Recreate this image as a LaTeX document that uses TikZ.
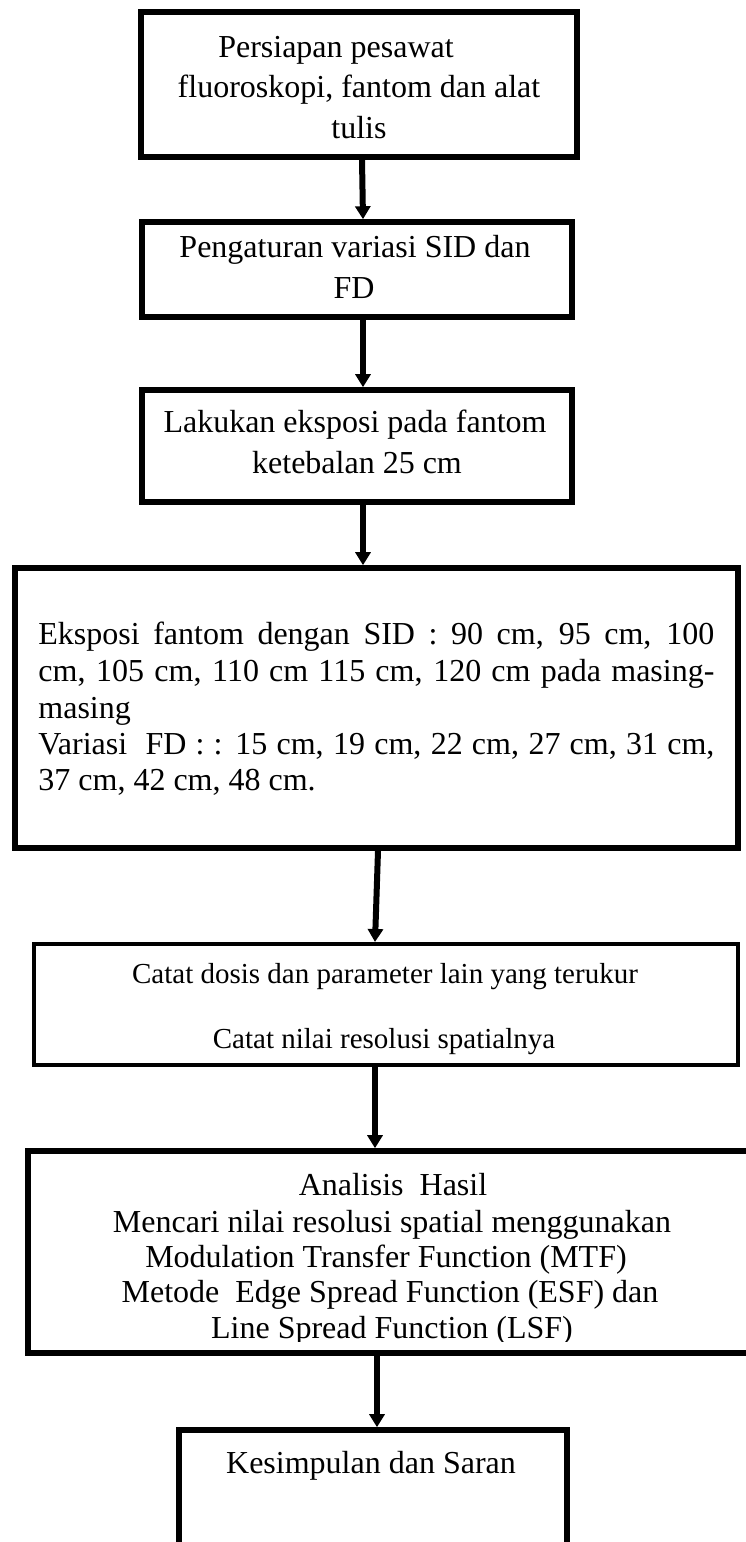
\documentclass[tikz,border=0pt]{standalone}
\usepackage{fontspec}
\setmainfont{Liberation Serif}
\usetikzlibrary{arrows.meta}
\begin{document}
\begin{tikzpicture}[x=0.5pt,y=-0.5pt,
  box/.style={draw,line width=2.8pt,inner sep=0pt,fill=none},
  thinbox/.style={draw,line width=2pt,inner sep=0pt},
  arr/.style={line width=3pt,-{Triangle[width=7.5pt,length=6.5pt]}},
  txt/.style={anchor=base,inner sep=0pt,font=\fontsize{16}{19}\selectfont},
  smalltxt/.style={anchor=base,inner sep=0pt,font=\fontsize{14.5}{17}\selectfont}]
\useasboundingbox (0,0) rectangle (745,1542);
\fill[white] (0,0) rectangle (745,1542);
% boxes
\node[box,minimum width=218pt,minimum height=72.5pt] (b1) at (359,84.5) {};
\node[box,minimum width=215pt,minimum height=47.5pt] (b2) at (357,269.5) {};
\node[box,minimum width=215pt,minimum height=56pt] (b3) at (357,446) {};
\node[box,minimum width=361.5pt,minimum height=140pt] (b4) at (376.5,708) {};
\node[thinbox,minimum width=352pt,minimum height=60.5pt] (b5) at (386,1004.5) {};
\node[box,minimum width=362pt,minimum height=101pt] (b6) at (390,1252) {};
\node[box,minimum width=194pt,minimum height=65pt] (b7) at (373,1495) {};
% texts
\node[txt] (t1a) at (336,57) {Persiapan pesawat};
\node[txt] (t1b) at (359,97) {fluoroskopi, fantom dan alat};
\node[txt] (t1c) at (359,138) {tulis};
\node[txt] (t2a) at (355,257) {Pengaturan variasi SID dan};
\node[txt] (t2b) at (354,298) {FD};
\node[txt] (t3a) at (355,432) {Lakukan eksposi pada fantom};
\node[txt] (t3b) at (357,473) {ketebalan 25 cm};
\node[txt,anchor=base west] (t4a) at (38,644) {\makebox[338pt][s]{Eksposi fantom dengan SID : 90 cm, 95 cm, 100}};
\node[txt,anchor=base west] (t4b) at (38,681) {\makebox[338pt][s]{cm, 105 cm, 110 cm 115 cm, 120 cm pada masing-}};
\node[txt,anchor=base west] (t4c) at (38,718) {masing};
\node[txt,anchor=base west] (t4d) at (38,754) {\makebox[338pt][s]{Variasi\ \ FD : : 15 cm, 19 cm, 22 cm, 27 cm, 31 cm,}};
\node[txt,anchor=base west] (t4e) at (38,790) {37 cm, 42 cm, 48 cm.};
\node[smalltxt] (t5a) at (385,983) {Catat dosis dan parameter lain yang terukur};
\node[smalltxt] (t5b) at (384,1048) {Catat nilai resolusi spatialnya};
\node[txt] (t6a) at (393,1195) {Analisis\ \ Hasil};
\node[txt] (t6b) at (392,1232) {Mencari nilai resolusi spatial menggunakan};
\node[txt] (t6c) at (386,1267) {Modulation Transfer Function (MTF)};
\node[txt] (t6d) at (390,1302) {Metode\ \ Edge Spread Function (ESF) dan};
\begin{scope}
\clip (0,1150) rectangle (745,1341);
\node[txt] (t6e) at (392,1338) {Line Spread Function (LSF)};
\end{scope}
\node[txt] (t7a) at (371,1473) {Kesimpulan dan Saran};
% connectors
\draw[arr] ([xshift=1.5pt]b1.south) -- ([xshift=3pt]b2.north);
\draw[arr] ([xshift=3pt]b2.south) -- ([xshift=3pt]b3.north);
\draw[arr] ([xshift=3pt]b3.south) -- ([xshift=-6.75pt]b4.north);
\draw[arr] ([xshift=0.75pt]b4.south) -- ([xshift=-5.5pt]b5.north);
\draw[arr] ([xshift=-5.5pt]b5.south) -- ([xshift=-7.5pt]b6.north);
\draw[arr] ([xshift=-6.5pt]b6.south) -- ([xshift=2pt]b7.north);
\end{tikzpicture}
\end{document}
